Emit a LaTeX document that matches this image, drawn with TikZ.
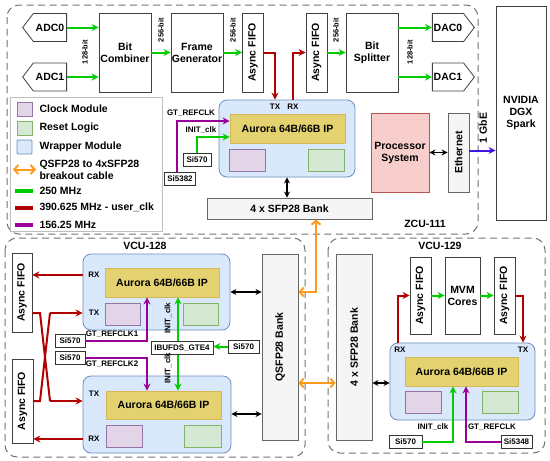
\documentclass[tikz,border=0pt]{standalone}
\usepackage{fontspec}
\setmainfont{Liberation Sans}
\usetikzlibrary{arrows.meta,shapes.symbols,positioning}

\definecolor{cgreen}{HTML}{00CC00}
\definecolor{cred}{HTML}{B20000}
\definecolor{cpurple}{HTML}{990099}
\definecolor{corange}{HTML}{FF9A1F}
\definecolor{cblue}{HTML}{4015E0}
\definecolor{wrapfill}{HTML}{DAE8FC}
\definecolor{wrapline}{HTML}{6C8EBF}
\definecolor{ipfill}{HTML}{E3D26F}
\definecolor{ipline}{HTML}{D6B656}
\definecolor{clkfill}{HTML}{E1D5E7}
\definecolor{clkline}{HTML}{9673A6}
\definecolor{rstfill}{HTML}{D5E8D4}
\definecolor{rstline}{HTML}{82B366}
\definecolor{psfill}{HTML}{F8CECC}
\definecolor{psline}{HTML}{B85450}
\definecolor{bankfill}{HTML}{F5F5F5}
\definecolor{bankline}{HTML}{666666}

\newcommand{\fbig}{\fontsize{10.5}{12}\selectfont\bfseries}
\newcommand{\fsmall}{\fontsize{8}{9.5}\selectfont\bfseries}

\tikzset{
    block/.style={draw=black!75, fill=white, line width=0.8pt, inner sep=0pt, align=center, font=\fbig},
    fifo/.style={block, rotate=90, minimum width=79pt, minimum height=21pt},
    converter/.style={block, shape=signal, signal pointer angle=105, minimum width=44pt, minimum height=28pt},
    bank/.style={draw=bankline, fill=bankfill, line width=0.8pt, inner sep=0pt, align=center, font=\fbig},
    wrapper/.style={draw=wrapline, fill=wrapfill, line width=0.8pt, rounded corners=8pt, inner sep=0pt},
    ipcore/.style={draw=ipline, fill=ipfill, line width=0.8pt, inner sep=0pt, font=\fbig, minimum height=29pt},
    clkbox/.style={draw=clkline, fill=clkfill, line width=0.8pt, inner sep=0pt, minimum width=36pt, minimum height=22pt},
    rstbox/.style={draw=rstline, fill=rstfill, line width=0.8pt, inner sep=0pt, minimum width=36pt, minimum height=22pt},
    osc/.style={draw=black!80, fill=white, line width=0.8pt, inner sep=0pt, font=\fsmall, minimum height=13pt},
    lbl/.style={font=\fsmall, inner sep=0pt},
    board/.style={draw=black!55, dash pattern=on 7pt off 4.5pt, line width=1pt, rounded corners=12pt},
    garrow/.style={draw=cgreen, line width=2pt, -{Stealth[length=7pt,width=7pt]}},
    rarrow/.style={draw=cred, line width=2pt, -{Stealth[length=7pt,width=7pt]}},
    rline/.style={draw=cred, line width=2pt},
    parrow/.style={draw=cpurple, line width=2pt, -{Stealth[length=7pt,width=7pt]}},
    oarrow/.style={draw=corange, line width=2pt, {Straight Barb[length=4pt,width=9pt]}-{Straight Barb[length=4pt,width=9pt]}},
    barrow/.style={draw=black, line width=1.5pt, {Stealth[length=6pt,width=6pt]}-{Stealth[length=6pt,width=6pt]}},
}

\begin{document}
\begin{tikzpicture}[x=1pt,y=-1pt]
    \useasboundingbox (0,0) rectangle (550,461);

    % boards
    \draw[board] (7,5) rectangle (478,234);
    \draw[board] (5,238) rectangle (305,457);
    \draw[board] (328,238) rectangle (545,453);
    \node[font=\fbig] (zcu) at (425,224) {ZCU-111};
    \node[font=\fbig] (vcua) at (145,246) {VCU-128};
    \node[font=\fbig] (vcub) at (440,246) {VCU-129};

    % ZCU-111 data path
    \node[converter, signal to=west] (adc0) at (50,27.5) {ADC0};
    \node[converter, signal to=west] (adc1) at (50,77) {ADC1};
    \node[block, minimum width=52pt, minimum height=79pt] (comb) at (125,52.5) {Bit\\Combiner};
    \node[block, minimum width=52pt, minimum height=79pt] (frame) at (197,52.5) {Frame\\Generator};
    \node[fifo] (fifoa) at (253,52.5) {Async FIFO};
    \node[fifo] (fifob) at (316.5,52.5) {Async FIFO};
    \node[block, minimum width=52pt, minimum height=79pt] (split) at (372,52.5) {Bit\\Splitter};
    \node[converter, signal to=east, minimum width=42pt] (dac0) at (448,27.5) {DAC0};
    \node[converter, signal to=east, minimum width=42pt] (dac1) at (448,77) {DAC1};

    \draw[garrow] (adc0.east) -- (adc0.east -| comb.west);
    \draw[garrow] (adc1.east) -- (adc1.east -| comb.west);
    \draw[garrow] (comb) -- (frame);
    \draw[garrow] (frame) -- (fifoa);
    \draw[garrow] (fifob) -- (split);
    \draw[garrow] (split.east |- dac0) -- (dac0.west);
    \draw[garrow] (split.east |- dac1) -- (dac1.west);
    \node[lbl, rotate=90, font=\fontsize{7.5}{9}\selectfont\bfseries] (wa) at (85,52) {128-bit};
    \node[lbl, rotate=90, font=\fontsize{7.5}{9}\selectfont\bfseries] (wb) at (161,30) {256-bit};
    \node[lbl, rotate=90, font=\fontsize{7.5}{9}\selectfont\bfseries] (wc) at (233,30) {256-bit};
    \node[lbl, rotate=90, font=\fontsize{7.5}{9}\selectfont\bfseries] (wd) at (336,30) {256-bit};
    \node[lbl, rotate=90, font=\fontsize{7.5}{9}\selectfont\bfseries] (we) at (410,52) {128-bit};

    % ZCU-111 Aurora wrapper
    \node[wrapper, minimum width=136pt, minimum height=77pt] (zwrap) at (287,138.5) {};
    \node[ipcore, minimum width=115pt] (zip) at (287.5,128.5) {Aurora 64B/66B IP};
    \node[clkbox] (zclk) at (247.5,160) {};
    \node[rstbox] (zrst) at (326,160) {};
    \node[lbl] (ztx) at (275,107) {TX};
    \node[lbl] (zrx) at (293,107) {RX};
    \draw[rarrow] (fifoa.south) -| (zwrap.north -| ztx);
    \draw[rarrow] (zwrap.north -| zrx) |- (fifob.north);

    \node[osc, minimum width=28pt] (zsia) at (197,160) {Si570};
    \node[osc, minimum width=31pt] (zsib) at (180,179) {Si5382};
    \draw[parrow] ([xshift=-3pt]zsib.north) |- ([yshift=7.5pt]zip.west);
    \draw[garrow] (zsia.north) |- ([yshift=-8.5pt]zip.west);
    \node[lbl] (zref) at (191,113) {GT\_REFCLK};
    \node[lbl] (zinit) at (201,130) {INIT\_clk};

    \node[bank, minimum width=165pt, minimum height=21pt] (zsfp) at (289.5,208.5) {4 x SFP28 Bank};
    \draw[barrow] (zwrap.south) -- (zwrap.south |- zsfp.north);

    \node[draw=psline, fill=psfill, line width=0.8pt, inner sep=0pt, align=center, font=\fbig,
        minimum width=58pt, minimum height=79pt] (ps) at (400,152.5) {Processor\\System};
    \node[bank, rotate=90, minimum width=79pt, minimum height=21pt] (eth) at (458.5,152.5) {Ethernet};
    \draw[barrow] (ps) -- (eth);
    \node[block, minimum width=50pt, minimum height=214pt] (dgx) at (521,113) {NVIDIA\\DGX\\Spark};
    \draw[draw=cblue, line width=2pt, -{Stealth[length=7pt,width=7pt]}] ([yshift=2pt]eth.south) -- ([yshift=2pt]eth.south -| dgx.west);
    \node[font=\fbig, rotate=90, inner sep=0pt] (gbe) at (483,128) {1 GbE};

    % legend
    \draw[draw=black!25, line width=0.8pt, fill=white] (10,97) rectangle (162,231);
    \node[clkbox, minimum width=15pt, minimum height=14pt] (kclk) at (24.5,109) {};
    \node[rstbox, minimum width=15pt, minimum height=14pt] (krst) at (24.5,128) {};
    \node[wrapper, rounded corners=1pt, minimum width=15pt, minimum height=14pt] (kwrap) at (24.5,147) {};
    \node[font=\fbig, anchor=west] (tclk) at (36,109) {Clock Module};
    \node[font=\fbig, anchor=west] (trst) at (36,128) {Reset Logic};
    \node[font=\fbig, anchor=west] (twrap) at (36,147) {Wrapper Module};
    \draw[oarrow] (13,169.5) -- (36,169.5);
    \node[font=\fbig, anchor=west, align=left] (tcable) at (36,170) {QSFP28 to 4xSFP28\\breakout cable};
    \draw[draw=cgreen, line width=4pt] (15,191) -- (33,191);
    \draw[draw=cred, line width=4pt] (15,207.5) -- (33,207.5);
    \draw[draw=cpurple, line width=4pt] (15,225) -- (33,225);
    \node[font=\fbig, anchor=west] (tg) at (36,190.5) {250 MHz};
    \node[font=\fbig, anchor=west] (tr) at (36,207) {390.625 MHz - user\_clk};
    \node[font=\fbig, anchor=west] (tp) at (36,224.5) {156.25 MHz};

    % VCU-128
    \node[bank, rotate=90, minimum width=186pt, minimum height=36pt] (qsfp) at (280,347) {QSFP28 Bank};
    \node[fifo, minimum width=79pt, minimum height=20pt] (vfa) at (22,292.5) {Async FIFO};
    \node[fifo, minimum width=84pt, minimum height=21pt] (vfb) at (22.5,401) {Async FIFO};

    \node[wrapper, minimum width=147pt, minimum height=76pt] (vwa) at (156.5,292) {};
    \node[ipcore, minimum width=114pt] (vipa) at (162,282.5) {Aurora 64B/66B IP};
    \node[clkbox, minimum width=35pt] (vclka) at (122.5,314) {};
    \node[rstbox, minimum width=35pt] (vrsta) at (200.5,314) {};
    \node[lbl] (vrxa) at (94,275) {RX};
    \node[lbl] (vtxa) at (94,313) {TX};

    \node[wrapper, minimum width=148pt, minimum height=77pt] (vwb) at (157,414.5) {};
    \node[ipcore, minimum width=115pt, minimum height=28pt] (vipb) at (163.5,405) {Aurora 64B/66B IP};
    \node[clkbox] (vclkb) at (124,436) {};
    \node[rstbox, minimum width=37pt] (vrstb) at (202.5,436) {};
    \node[lbl] (vtxb) at (94,394) {TX};
    \node[lbl] (vrxb) at (94,439) {RX};

    \draw[barrow] (vwa.east |- 0,292) -- (qsfp.north |- 0,292);
    \draw[barrow] (vwb.east |- 0,414) -- (qsfp.north |- 0,414);
    \draw[rarrow] (vwa.west |- vrxa) -- (vfa.south |- vrxa);
    \draw[rarrow] (vwb.west |- vrxb) -- (vfb.south |- vrxb);

    % crossed TX lines
    \coordinate (xa) at (40,313);
    \coordinate (xb) at (50,313);
    \coordinate (xc) at (40,401);
    \coordinate (xd) at (50,401);
    \draw[rline] (vfa.south |- xa) -- (xa) -- (xd);
    \draw[rarrow] (xd) -- (vwb.west |- xd);
    \draw[rline] (vfb.south |- xc) -- (xc) -- (xb);
    \draw[rarrow] (xb) -- (vwa.west |- xb);

    \node[osc, minimum width=30pt] (vsia) at (70,341) {Si570};
    \node[osc, minimum width=30pt] (vsib) at (70,358) {Si570};
    \node[osc, minimum width=62pt] (ibuf) at (182,348) {IBUFDS\_GTE4};
    \node[osc, minimum width=31pt] (vsic) at (243.5,346.5) {Si570};
    \draw[parrow] (vsia.east) -| ([xshift=-15pt]vipa.south);
    \draw[parrow] (vsib.east) -| ([xshift=-16.5pt]vipb.north);
    \draw[garrow] (vsic.west) -- (vsic.west -| ibuf.east);
    \draw[garrow] ([xshift=-4pt]ibuf.north) -- ([xshift=-4pt]ibuf.north |- vipa.south);
    \draw[garrow] ([xshift=-4pt]ibuf.south) -- ([xshift=-4pt]ibuf.south |- vipb.north);
    \node[lbl] (vrefa) at (112,334.5) {GT\_REFCLK1};
    \node[lbl] (vrefb) at (112,364.5) {GT\_REFCLK2};
    \node[lbl, rotate=90] (vinita) at (168,318) {INIT\_clk};
    \node[lbl, rotate=90] (vinitb) at (168,368) {INIT\_clk};

    % VCU-129
    \node[bank, rotate=90, minimum width=186pt, minimum height=36pt] (sfpb) at (354,347) {4 x SFP28 Bank};
    \node[fifo, minimum width=77pt] (wfa) at (420.5,295.5) {Async FIFO};
    \node[block, minimum width=35pt, minimum height=77pt] (mvm) at (462.5,295.5) {MVM\\Cores};
    \node[fifo, minimum width=77pt] (wfb) at (504.5,295.5) {Async FIFO};
    \draw[garrow] (wfa) -- (mvm);
    \draw[garrow] (mvm) -- (wfb);

    \node[wrapper, minimum width=145pt, minimum height=77pt] (ww) at (462.5,381.5) {};
    \node[ipcore, minimum width=113pt] (wip) at (461.5,371.5) {Aurora 64B/66B IP};
    \node[clkbox] (wclk) at (423,402.5) {};
    \node[rstbox] (wrst) at (500,402.5) {};
    \node[lbl] (wrx) at (400,349.5) {RX};
    \node[lbl] (wtx) at (523,349.5) {TX};
    \draw[rarrow] ([xshift=-2pt]ww.north -| wrx) |- (wfa.north);
    \draw[rarrow] (wfb.south) -| (ww.north -| wtx);

    \draw[barrow] (sfpb.south |- 0,383) -- (ww.west |- 0,383);
    \draw[oarrow] (qsfp.south |- 0,383) -- (sfpb.north |- 0,383);
    \coordinate (obend) at (316,292);
    \draw[oarrow] (zsfp.south -| obend) |- (qsfp.south |- obend);

    \node[osc, minimum width=33pt] (wsia) at (405.5,442) {Si570};
    \node[osc, minimum width=31pt] (wsib) at (516.5,442) {Si5348};
    \draw[garrow] (wsia.east) -| ([xshift=-8.5pt]wip.south);
    \draw[parrow] (wsib.west) -| ([xshift=4.5pt]wip.south);
    \node[lbl] (winit) at (433,427) {INIT\_clk};
    \node[lbl] (wref) at (492,427) {GT\_REFCLK};
\end{tikzpicture}
\end{document}
